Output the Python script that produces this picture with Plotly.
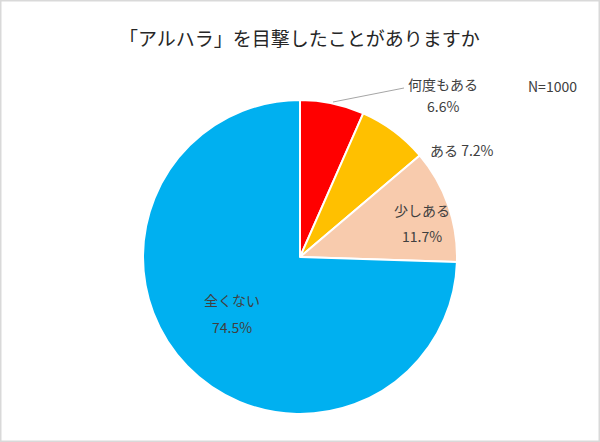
import plotly.graph_objects as go

title = "「アルハラ」を目撃したことがありますか"
labels = ["何度もある", "ある", "少しある", "全くない"]
values = [6.6, 7.2, 11.7, 74.5]
colors = ["#FF0000", "#FFC000", "#F8CBAD", "#00B0F0"]
n_text = "N=1000"

W, H = 600, 442
FONT = "Noto Sans CJK JP, Noto Sans, sans-serif"
TXT = "#404040"

# pie centre (300, 257) px, radius ~157 px
cx, cy, r = 300, 257, 157

fig = go.Figure(go.Pie(
    labels=labels,
    values=values,
    sort=False,
    direction="clockwise",
    rotation=0,
    marker=dict(colors=colors, line=dict(color="white", width=2)),
    textinfo="none",
    hoverinfo="label+percent",
    showlegend=False,
    domain=dict(x=[(cx - r) / W, (cx + r) / W],
                y=[(H - cy - r) / H, (H - cy + r) / H]),
))


def px(x, y):
    return x / W, 1 - y / H


# label positions in pixels (two-line ones split label / value)
label_pos = [
    ((443, 84), (443, 106), False),
    ((462, 150), None, True),
    ((422, 210), (422, 236), False),
    ((232, 300), (232, 327), False),
]

ann = []
for lab, val, (p1, p2, one_line) in zip(labels, values, label_pos):
    if one_line:
        x, y = px(*p1)
        ann.append(dict(x=x, y=y, text=f"{lab} {val:.1f}%"))
    else:
        x, y = px(*p1)
        ann.append(dict(x=x, y=y, text=lab))
        x, y = px(*p2)
        ann.append(dict(x=x, y=y, text=f"{val:.1f}%"))

x, y = px(552, 86)
ann.append(dict(x=x, y=y, text=n_text))
x, y = px(299, 37)
ann.append(dict(x=x, y=y, text=title, font=dict(size=19, color="#262626", family=FONT)))

for a in ann:
    a.update(xref="paper", yref="paper", showarrow=False, xanchor="center", yanchor="middle")
    a.setdefault("font", dict(size=14, color=TXT, family=FONT))

x0, y0 = px(333, 102)
x1, y1 = px(404, 88)
shapes = [
    dict(type="line", xref="paper", yref="paper", x0=x0, y0=y0, x1=x1, y1=y1,
         line=dict(color="#A6A6A6", width=1)),
    dict(type="rect", xref="paper", yref="paper", x0=0, y0=0, x1=1, y1=1,
         line=dict(color="#D9D9D9", width=3)),
]

fig.update_layout(
    width=W, height=H,
    margin=dict(l=0, r=0, t=0, b=0),
    paper_bgcolor="white",
    plot_bgcolor="white",
    annotations=ann,
    shapes=shapes,
    font=dict(family=FONT, color=TXT),
)

# drop the browser's default body margin so the figure sits at 0,0
fig.write_html("out.html", config={"displayModeBar": False},
               post_script="document.body.style.margin='0';")
